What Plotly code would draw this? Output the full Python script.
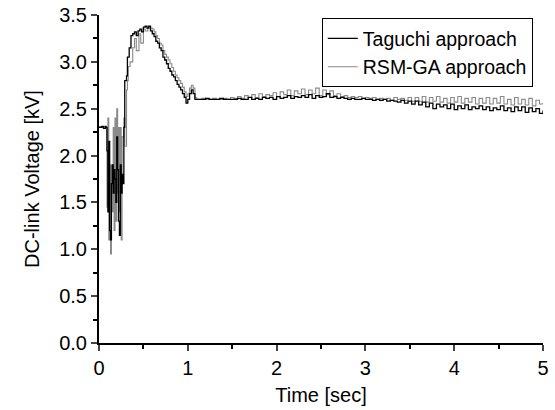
import numpy as np
import plotly.graph_objects as go

# Transient part (time in s, voltage in kV)
t_tag_tr = [0.00, 0.03, 0.05, 0.07, 0.08, 0.09, 0.10, 0.11, 0.12, 0.13, 0.14, 0.15, 0.16, 0.17,
            0.18, 0.19, 0.20, 0.21, 0.22, 0.23, 0.24, 0.25, 0.26, 0.27, 0.28, 0.29, 0.31, 0.32,
            0.34, 0.36, 0.38, 0.40, 0.42, 0.44, 0.46, 0.48, 0.50, 0.52, 0.54, 0.56, 0.58, 0.60,
            0.62, 0.64, 0.66, 0.68, 0.70, 0.72, 0.74, 0.76, 0.78, 0.80, 0.82, 0.84, 0.86, 0.88,
            0.90, 0.92, 0.94, 0.96, 0.98, 1.00, 1.02, 1.04, 1.06, 1.08, 1.10]
v_tag_tr = [2.30, 2.31, 2.29, 2.31, 2.30, 2.05, 1.40, 2.15, 1.20, 1.10, 1.70, 1.90, 1.60, 1.85,
            1.75, 1.50, 2.20, 1.85, 1.30, 1.15, 1.90, 1.60, 1.80, 1.70, 2.30, 2.80, 2.85, 3.05,
            3.15, 3.28, 3.30, 3.32, 3.28, 3.33, 3.35, 3.32, 3.37, 3.38, 3.36, 3.38, 3.33, 3.30,
            3.27, 3.22, 3.20, 3.15, 3.12, 3.05, 3.02, 2.98, 2.93, 2.90, 2.86, 2.84, 2.80, 2.76,
            2.73, 2.70, 2.66, 2.62, 2.56, 2.60, 2.66, 2.70, 2.66, 2.60, 2.60]

t_rsm_tr = [0.00, 0.03, 0.05, 0.07, 0.08, 0.09, 0.10, 0.11, 0.12, 0.13, 0.14, 0.15, 0.16, 0.17,
            0.18, 0.19, 0.20, 0.21, 0.22, 0.23, 0.24, 0.25, 0.26, 0.27, 0.28, 0.29, 0.30, 0.31,
            0.32, 0.33, 0.35, 0.38, 0.40, 0.42, 0.45, 0.47, 0.50, 0.52, 0.55, 0.58, 0.60, 0.62,
            0.64, 0.66, 0.68, 0.70, 0.72, 0.74, 0.76, 0.78, 0.80, 0.82, 0.84, 0.86, 0.88, 0.90,
            0.92, 0.94, 0.96, 0.98, 1.00, 1.02, 1.04, 1.06, 1.08, 1.10]
v_rsm_tr = [2.31, 2.30, 2.31, 2.29, 2.30, 1.45, 2.40, 1.10, 1.90, 0.95, 1.90, 1.40, 2.30, 1.20,
            2.40, 1.30, 2.50, 1.60, 2.30, 1.40, 2.30, 1.10, 2.20, 2.20, 2.40, 2.10, 2.10, 2.70,
            2.80, 2.95, 3.00, 3.15, 3.25, 3.12, 3.30, 3.20, 3.35, 3.33, 3.37, 3.36, 3.35, 3.32,
            3.28, 3.25, 3.20, 3.18, 3.12, 3.08, 3.05, 3.02, 2.98, 2.94, 2.90, 2.86, 2.83, 2.80,
            2.77, 2.73, 2.68, 2.63, 2.66, 2.72, 2.75, 2.72, 2.62, 2.60]

# Steady part, sampled every 0.04 s from 1.12 s to 5.00 s
t_steady = np.round(1.12 + 0.04 * np.arange(98), 2)
v_tag_st = [2.60, 2.60, 2.61, 2.60, 2.60, 2.60, 2.61, 2.60, 2.60, 2.60,
            2.60, 2.61, 2.60, 2.60, 2.62, 2.60, 2.61, 2.60, 2.62, 2.61,
            2.62, 2.60, 2.63, 2.61, 2.62, 2.64, 2.61, 2.63, 2.62, 2.64,
            2.62, 2.65, 2.61, 2.64, 2.62, 2.63, 2.66, 2.62, 2.63, 2.61,
            2.62, 2.61, 2.60, 2.61, 2.60, 2.60, 2.61, 2.60, 2.60, 2.59,
            2.60, 2.59, 2.60, 2.58, 2.59, 2.58, 2.57, 2.59, 2.56, 2.58,
            2.55, 2.58, 2.54, 2.57, 2.52, 2.56, 2.50, 2.55, 2.52, 2.54,
            2.50, 2.55, 2.49, 2.53, 2.50, 2.54, 2.49, 2.52, 2.50, 2.53,
            2.49, 2.52, 2.48, 2.51, 2.49, 2.53, 2.48, 2.51, 2.47, 2.52,
            2.48, 2.52, 2.46, 2.51, 2.47, 2.50, 2.45, 2.48]
v_rsm_st = [2.60, 2.61, 2.60, 2.60, 2.61, 2.60, 2.60, 2.61, 2.60, 2.62,
            2.61, 2.63, 2.61, 2.64, 2.62, 2.65, 2.62, 2.66, 2.63, 2.65,
            2.64, 2.67, 2.63, 2.68, 2.65, 2.70, 2.64, 2.69, 2.66, 2.71,
            2.65, 2.70, 2.66, 2.72, 2.64, 2.70, 2.65, 2.69, 2.64, 2.66,
            2.63, 2.64, 2.62, 2.63, 2.62, 2.63, 2.61, 2.62, 2.61, 2.62,
            2.60, 2.61, 2.60, 2.61, 2.59, 2.62, 2.60, 2.61, 2.59, 2.62,
            2.58, 2.62, 2.58, 2.63, 2.57, 2.62, 2.58, 2.63, 2.57, 2.61,
            2.56, 2.62, 2.57, 2.63, 2.56, 2.61, 2.57, 2.62, 2.55, 2.61,
            2.56, 2.62, 2.55, 2.61, 2.56, 2.63, 2.55, 2.60, 2.54, 2.62,
            2.55, 2.60, 2.54, 2.61, 2.53, 2.59, 2.55, 2.56]

t_tag = list(t_tag_tr) + list(t_steady)
v_tag = list(v_tag_tr) + list(v_tag_st)
t_rsm = list(t_rsm_tr) + list(t_steady)
v_rsm = list(v_rsm_tr) + list(v_rsm_st)

FONT = "Liberation Sans, Arial, sans-serif"
FS = 20

fig = go.Figure()
fig.add_trace(go.Scatter(x=t_rsm, y=v_rsm, mode="lines", name="RSM-GA approach",
                         line=dict(color="#8a8a8a", width=1.1, shape="hv")))
fig.add_trace(go.Scatter(x=t_tag, y=v_tag, mode="lines", name="Taguchi approach",
                         line=dict(color="black", width=1.3, shape="hv")))

fig.update_layout(
    width=555, height=410,
    margin=dict(l=99, r=12, t=15, b=67),
    paper_bgcolor="white", plot_bgcolor="white",
    font=dict(family=FONT, size=FS, color="black"),
    showlegend=True,
    legend=dict(x=0.977, y=0.99, xanchor="right", yanchor="top",
                bordercolor="black", borderwidth=1, bgcolor="white",
                traceorder="reversed", font=dict(family=FONT, size=19.5),
                tracegroupgap=0),
    xaxis=dict(range=[0, 5], tickvals=[0, 1, 2, 3, 4, 5], ticks="outside", ticklen=6,
               tickwidth=1.5, showline=True, linewidth=2, linecolor="black",
               showgrid=False, zeroline=False, automargin=False,
               minor=dict(tickvals=[0.5, 1.5, 2.5, 3.5, 4.5], ticks="outside", ticklen=4,
                          tickwidth=1.5, tickcolor="black"),
               title=dict(text="Time [sec]", font=dict(size=FS), standoff=10),
               tickfont=dict(size=FS)),
    yaxis=dict(range=[0, 3.5], tickvals=[0, 0.5, 1, 1.5, 2, 2.5, 3, 3.5],
               ticktext=["0.0", "0.5", "1.0", "1.5", "2.0", "2.5", "3.0", "3.5"],
               ticks="outside", ticklen=6, tickwidth=1.5, showline=True, linewidth=2,
               linecolor="black", showgrid=False, zeroline=False, automargin=False,
               minor=dict(tickvals=[0.25, 0.75, 1.25, 1.75, 2.25, 2.75, 3.25],
                          ticks="outside", ticklen=4, tickwidth=1.5, tickcolor="black"),
               title=dict(text="DC-link Voltage [kV]", font=dict(size=FS), standoff=14),
               tickfont=dict(size=FS)),
)

fig.write_html("out.html")
